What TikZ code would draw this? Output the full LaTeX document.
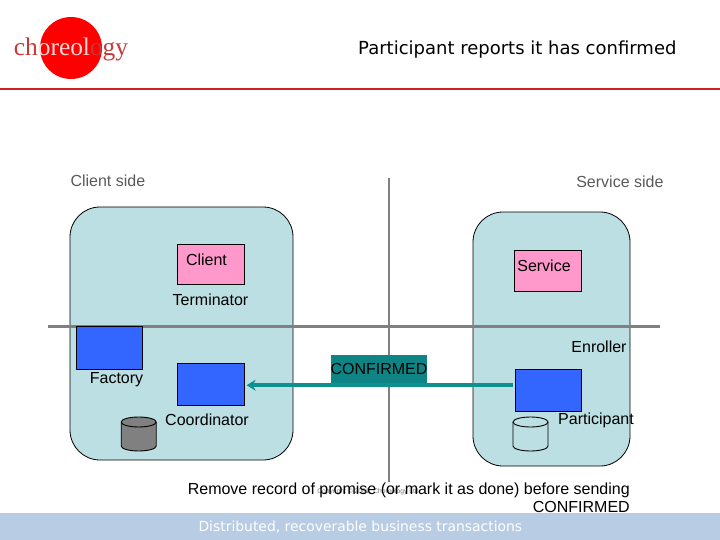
\documentclass[tikz,border=0pt]{standalone}
\usepackage{fontspec}
\setmainfont{Liberation Sans}
\newfontfamily\titlefont{DejaVu Sans}
\newfontfamily\logofont{Liberation Serif}
\usetikzlibrary{arrows.meta}
\definecolor{panelblue}{HTML}{BCDFE3}
\definecolor{boxblue}{HTML}{3366FF}
\definecolor{boxpink}{HTML}{FF99CC}
\definecolor{msgteal}{HTML}{0F9090}
\definecolor{axisgrey}{HTML}{808080}
\definecolor{rulered}{HTML}{D02020}
\definecolor{footblue}{HTML}{B8CCE4}
\definecolor{logored}{HTML}{C83838}
\begin{document}
\begin{tikzpicture}[
    x=1pt, y=-1pt,
    font=\fontsize{16}{18}\selectfont,
    panel/.style={draw, line width=0.8pt, rectangle, rounded corners=30pt, fill=panelblue, inner sep=0pt},
    role/.style={draw, line width=0.8pt, rectangle, inner sep=0pt, minimum width=66.5pt, minimum height=42.5pt},
    drum/.pic={
      \draw[line width=0.9pt, pic actions] (-17.5pt,12pt) -- (-17.5pt,-12pt)
        arc[start angle=180, end angle=360, x radius=17.5pt, y radius=5pt]
        -- (17.5pt,12pt)
        arc[start angle=0, end angle=180, x radius=17.5pt, y radius=5pt];
      \draw[line width=0.9pt] (-17.5pt,12pt) arc[start angle=180, end angle=360, x radius=17.5pt, y radius=5pt];
    },
    axisline/.style={draw=axisgrey, line width=2.2pt},
    msg/.style={draw=msgteal, line width=3.8pt, -{Stealth[length=9pt,width=11pt]}}
  ]
    \useasboundingbox (0,0) rectangle (720,540);

    %% --- Header and footer ---
    \node[fill=red, circle, inner sep=0pt, minimum size=62pt] (logodisc) at (71,48) {};
    \node[font=\logofont\fontsize{25.4}{27}\selectfont, anchor=center] (logotext) at (71,49)
      {\textcolor{logored}{ch}\textcolor{red!15}{oreol}\textcolor{logored}{ogy}};
    \node[font=\titlefont\fontsize{18}{20}\selectfont, anchor=east] (title) at (680,49.5) {Participant reports it has confirmed};
    \draw[draw=rulered, line width=2.2pt] (0,89) -- (720,89);
    \node[fill=footblue, minimum width=720pt, minimum height=27pt, inner sep=0pt] (footer) at (360,526.5) {};
    \node[font=\titlefont\fontsize{13.9}{16}\selectfont, text=white, anchor=west] (foottext) at (195,527) {Distributed, recoverable business transactions};

    %% --- Side captions ---
    \node[text=black!65, anchor=west] (clientside) at (67,181) {Client side};
    \node[text=black!65, anchor=east] (serviceside) at (667,182) {Service side};

    %% --- Panels ---
    \node[panel, minimum width=223pt, minimum height=253pt] (clientpanel) at (181.5,333.5) {};
    \node[panel, minimum width=157pt, minimum height=254pt] (servicepanel) at (551.5,339) {};

    %% --- Axes ---
    \coordinate (axistop) at (388.7,178);
    \coordinate (axisbot) at (388.7,482);
    \coordinate (axisleft) at (48,326.5);
    \coordinate (axisright) at (660,326.5);
    \draw[axisline] (axistop) -- (axisbot);
    \draw[axisline] (axisleft) -- (axisright);

    %% --- Left column ---
    \node[role, fill=boxpink, minimum height=40pt] (client) at (211,264) {};
    \node[anchor=center] (clientlabel) at (206.5,259.5) {Client};
    \node[anchor=center] (terminator) at (210.5,299.5) {Terminator};
    \node[role, fill=boxblue] (factory) at (109.5,348) {};
    \node[anchor=center] (factorylabel) at (116.5,379.5) {Factory};
    \node[role, fill=boxblue] (coordinator) at (211,384.5) {};
    \node[anchor=center] (coordinatorlabel) at (207,419.5) {Coordinator};
    \pic[fill=axisgrey] (clientstore) at (138.7,434) {drum};

    %% --- Right column ---
    \node[role, fill=boxpink, minimum height=41pt] (service) at (548,270.5) {};
    \node[anchor=center] (servicelabel) at (544,265.5) {Service};
    \node[anchor=center] (enroller) at (599,346.5) {Enroller};
    \node[role, fill=boxblue] (participant) at (548.3,390.3) {};
    \node[anchor=center] (participantlabel) at (596,420) {Participant};
    \pic (servicestore) at (530.5,434) {drum};

    %% --- Message ---
    \node[fill=msgteal!92!black, inner sep=0pt, minimum width=96pt, minimum height=30pt] (confirmed) at (379,370) {};
    \node[anchor=center] (confirmedlabel) at (379,368.5) {CONFIRMED};
    \draw[msg] ([xshift=-2pt]participant.west |- confirmed.south) -- ([xshift=2pt]coordinator.east |- confirmed.south);

    %% --- Note ---
    \node[font=\fontsize{6.7}{7}\selectfont, text=black!55] (copyright) at (368,491.5) {Copyright © 2001, Choreology Ltd};
    \node[align=right, anchor=north east, inner sep=0pt] (note) at (630,483)
      {Remove record of promise (or mark it as done) before sending\\CONFIRMED};
  \end{tikzpicture}
\end{document}
